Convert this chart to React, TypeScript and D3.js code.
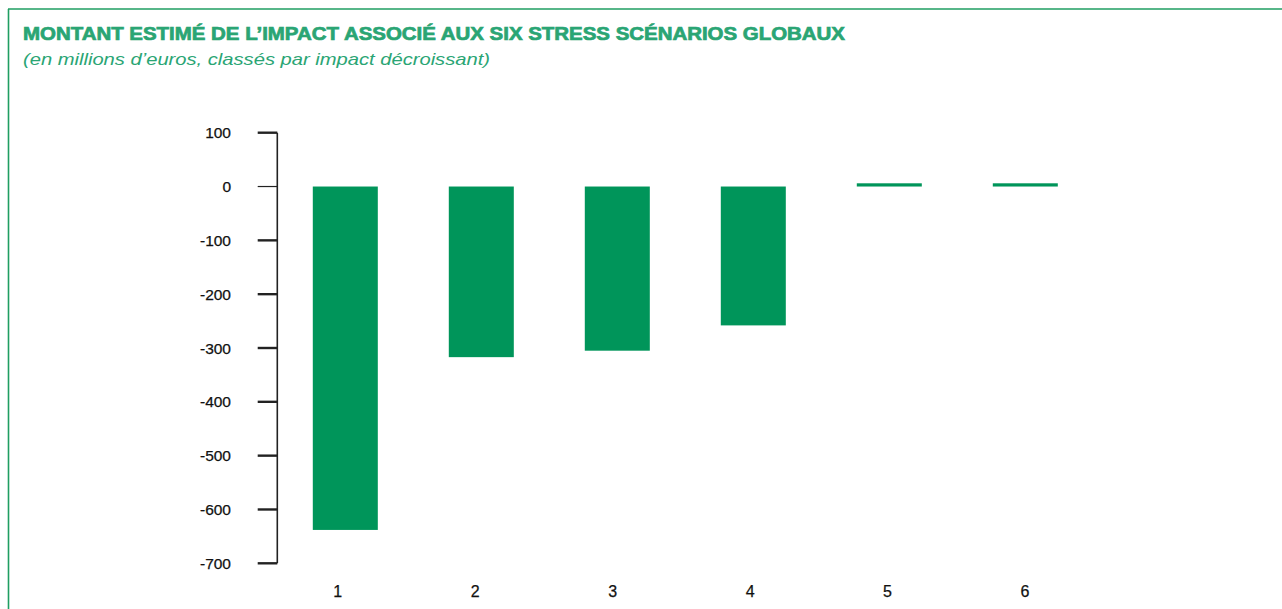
import React from "react";
import * as d3 from "d3";

const categories = ["1", "2", "3", "4", "5", "6"];
const impacts = [-638, -317, -305, -258, 6, 6];
const yTicks = [100, 0, -100, -200, -300, -400, -500, -600, -700];

const title = "MONTANT ESTIMÉ DE L’IMPACT ASSOCIÉ AUX SIX STRESS SCÉNARIOS GLOBAUX";
const subtitle = "(en millions d’euros, classés par impact décroissant)";

const W = 1282;
const H = 609;
const axisX = 277.3;
const GREEN = "#00955a";
const TITLE_GREEN = "#2aa574";

export default function App() {
  const y = d3.scaleLinear().domain([-700, 100]).range([563.3, 132.7]);
  const x = d3
    .scaleBand<string>()
    .domain(categories)
    .range([axisX, axisX + 816])
    .paddingInner(0.522)
    .paddingOuter(0.261);
  const xl = d3.scalePoint<string>().domain(categories).range([337.7, 1025]);

  return (
    <svg
      width={W}
      height={H}
      style={{ position: "absolute", left: 0, top: 0, background: "#fff" }}
      fontFamily="'Liberation Sans', Arial, Helvetica, sans-serif"
    >
      <rect x={0} y={0} width={W} height={H} fill="#fff" />
      {/* frame */}
      <line x1={8} y1={9} x2={W} y2={9} stroke="#1f9e62" strokeWidth={1.6} />
      <line x1={8.5} y1={9} x2={8.5} y2={H} stroke="#1f9e62" strokeWidth={1.6} />

      <text
        x={23}
        y={40}
        fill={TITLE_GREEN}
        stroke={TITLE_GREEN}
        strokeWidth={0.7}
        fontSize={18}
        fontWeight={700}
        textLength={822}
        lengthAdjust="spacingAndGlyphs"
      >
        {title}
      </text>
      <text
        x={23}
        y={65}
        fill={TITLE_GREEN}
        fontSize={17}
        fontStyle="italic"
        textLength={467}
        lengthAdjust="spacingAndGlyphs"
      >
        {subtitle}
      </text>

      {/* bars */}
      {categories.map((c, i) => {
        const v = impacts[i];
        const y0 = y(0);
        const y1 = y(v);
        return (
          <rect
            key={c}
            x={x(c)}
            y={Math.min(y0, y1)}
            width={x.bandwidth()}
            height={Math.abs(y1 - y0)}
            fill={GREEN}
          />
        );
      })}

      {/* y axis */}
      <line x1={axisX} x2={axisX} y1={y(100)} y2={y(-700)} stroke="#222" strokeWidth={1.6} />
      {yTicks.map((t) => (
        <g key={t}>
          <line
            x1={257.7}
            x2={axisX}
            y1={y(t)}
            y2={y(t)}
            stroke="#222"
            strokeWidth={t === 0 ? 1.2 : 2.4}
          />
          <text
            x={231}
            y={y(t)}
            dy="0.36em"
            textAnchor="end"
            fontSize={15.5}
            fill="#111"
            stroke="#111"
            strokeWidth={0.25}
          >
            {t}
          </text>
        </g>
      ))}

      {/* x labels */}
      {categories.map((c) => (
        <text
          key={c}
          x={xl(c)}
          y={597}
          textAnchor="middle"
          fontSize={16}
          fill="#111"
          stroke="#111"
          strokeWidth={0.25}
        >
          {c}
        </text>
      ))}
    </svg>
  );
}
